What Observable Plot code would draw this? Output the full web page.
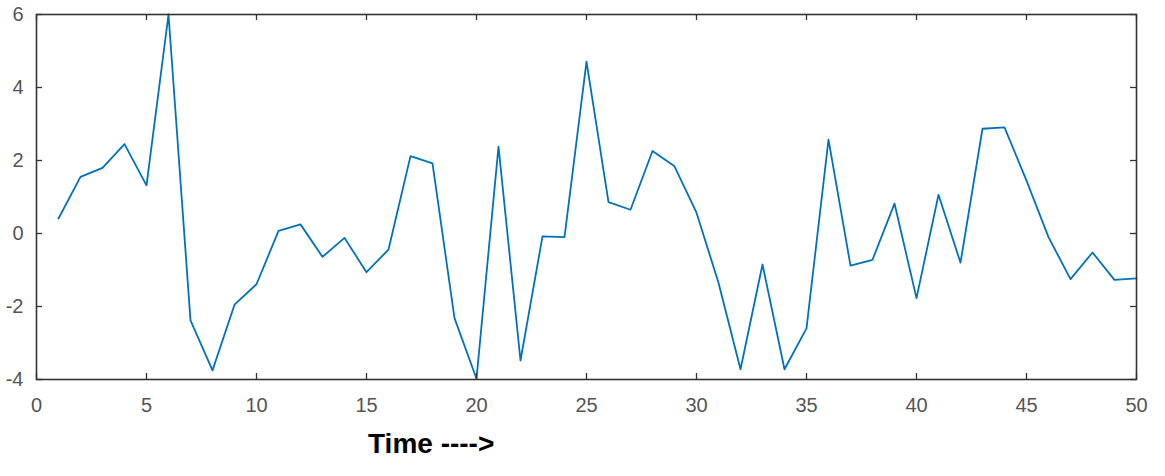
<!DOCTYPE html>
<html>
<head>
<meta charset="utf-8">
<script src="https://cdn.jsdelivr.net/npm/d3@7"></script>
<script src="https://cdn.jsdelivr.net/npm/@observablehq/plot@0.6"></script>
<style>
  html, body { margin: 0; padding: 0; background: #fff; }
  #wrap { position: relative; width: 1165px; height: 476px; overflow: hidden; }
  #xlabel { position: absolute; left: 368px; top: 428px; font-family: "Liberation Sans", Arial, sans-serif; font-weight: bold; font-size: 28px; color: #000; white-space: nowrap; }
</style>
</head>
<body>
<div id="wrap"><div id="xlabel">Time ----&gt;</div></div>
<script>
const time = d3.range(1, 51);
const values = [0.41, 1.55, 1.8, 2.45, 1.32, 6.0, -2.38, -3.75, -1.95, -1.39, 0.07, 0.25, -0.64, -0.12, -1.06, -0.44, 2.12, 1.92, -2.32, -3.98,
  2.38, -3.48, -0.08, -0.1, 4.71, 0.86, 0.65, 2.26, 1.84, 0.57, -1.35, -3.72, -0.85, -3.72, -2.6, 2.57, -0.88, -0.72, 0.82, -1.77,
  1.06, -0.8, 2.87, 2.91, 1.45, -0.1, -1.25, -0.52, -1.27, -1.23];
const xTicks = [0, 5, 10, 15, 20, 25, 30, 35, 40, 45, 50];
const yTicks = [-4, -2, 0, 2, 4, 6];

const data = time.map((t, i) => ({t, v: values[i]}));

const W = 1165, H = 476, mT = 14, mB = 97, mL = 36, mR = 29;
const fH = H - mT - mB, fW = W - mL - mR, tk = 6;
const axisColor = "#333";

const chart = Plot.plot({
  width: W, height: H,
  marginTop: mT, marginBottom: mB, marginLeft: mL, marginRight: mR,
  style: {background: "#fff", fontFamily: "Liberation Sans, Arial, sans-serif", color: "#555", overflow: "visible"},
  x: {domain: [0, 50]},
  y: {domain: [-4, 6]},
  marks: [
    Plot.line(data, {x: "t", y: "v", stroke: "#0072BD", strokeWidth: 1.8}),
    Plot.ruleX(xTicks, {x: d => d, insetTop: fH - tk, stroke: axisColor, strokeWidth: 1.3}),
    Plot.ruleX(xTicks, {x: d => d, insetBottom: fH - tk, stroke: axisColor, strokeWidth: 1.3}),
    Plot.ruleY(yTicks, {y: d => d, insetRight: fW - tk, stroke: axisColor, strokeWidth: 1.3}),
    Plot.ruleY(yTicks, {y: d => d, insetLeft: fW - tk, stroke: axisColor, strokeWidth: 1.3}),
    Plot.frame({stroke: axisColor, strokeWidth: 1.6}),
    Plot.axisX({ticks: xTicks, tickSize: 0, tickPadding: 18, fontSize: 20, label: null, tickFormat: d => String(d)}),
    Plot.axisY({ticks: yTicks, tickSize: 0, tickPadding: 13, fontSize: 20, label: null, tickFormat: d => String(d)})
  ]
});
document.getElementById("wrap").prepend(chart);
</script>
</body>
</html>
